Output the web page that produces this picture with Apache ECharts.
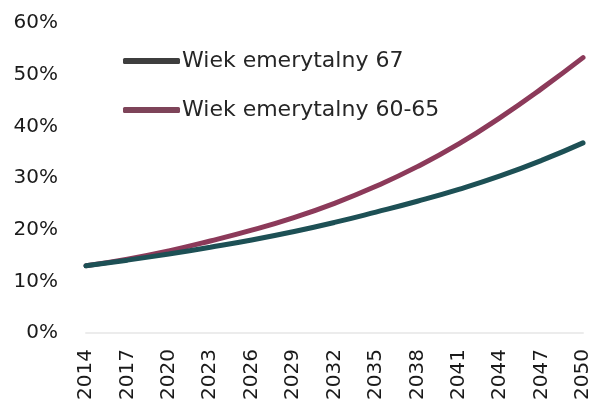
<!DOCTYPE html>
<html>
<head>
<meta charset="utf-8">
<script src="https://cdn.jsdelivr.net/npm/echarts@6/dist/echarts.min.js"></script>
<style>
  html, body { margin: 0; padding: 0; background: #ffffff; }
  #chart { width: 594px; height: 403px; }
</style>
</head>
<body>
<div id="chart"></div>
<script>
// Years shown on the horizontal axis
var years = ['2014', '2017', '2020', '2023', '2026', '2029', '2032', '2035', '2038', '2041', '2044', '2047', '2050'];

// Share (%) for each retirement-age scenario
var age67 = [13.0, 14.1, 15.3, 16.6, 18.0, 19.6, 21.4, 23.4, 25.5, 27.8, 30.4, 33.4, 36.8];
var age6065 = [13.0, 14.3, 15.9, 17.8, 19.9, 22.3, 25.1, 28.4, 32.2, 36.6, 41.7, 47.3, 53.3];

var seriesNames = ['Wiek emerytalny 67', 'Wiek emerytalny 60-65'];
var yTicks = { min: 0, max: 60, interval: 10 };

var chart = echarts.init(document.getElementById('chart'), null, { renderer: 'canvas' });

chart.setOption({
  backgroundColor: '#ffffff',
  animation: false,
  grid: { left: 86, right: 11, top: 23, bottom: 70, containLabel: false },
  legend: {
    orient: 'vertical',
    left: 118,
    top: 44,
    icon: 'roundRect',
    itemWidth: 57,
    itemHeight: 6,
    itemGap: 25,
    textStyle: {
      fontFamily: 'DejaVu Sans',
      fontSize: 22,
      color: '#262626',
      lineHeight: 24,
      padding: [0, 0, 0, -3]
    },
    data: [
      { name: seriesNames[0], itemStyle: { color: '#3e3e3e' } },
      { name: seriesNames[1], itemStyle: { color: '#7e4459' } }
    ]
  },
  xAxis: {
    type: 'category',
    data: years,
    boundaryGap: false,
    axisLine: { show: true, lineStyle: { color: '#ececec', width: 2 } },
    axisTick: { show: false },
    axisLabel: {
      rotate: 90,
      margin: 16,
      fontFamily: 'DejaVu Sans',
      fontSize: 20,
      color: '#1a1a1a'
    },
    splitLine: { show: false }
  },
  yAxis: {
    type: 'value',
    min: yTicks.min,
    max: yTicks.max,
    interval: yTicks.interval,
    axisLine: { show: false },
    axisTick: { show: false },
    splitLine: { show: false },
    axisLabel: {
      margin: 28,
      fontFamily: 'DejaVu Sans',
      fontSize: 20,
      color: '#1a1a1a',
      formatter: '{value}%'
    }
  },
  series: [
    {
      name: seriesNames[1],
      type: 'line',
      data: age6065,
      smooth: true,
      symbol: 'none',
      lineStyle: { color: '#8c3a5a', width: 5, cap: 'round' },
      itemStyle: { color: '#8c3a5a' },
      z: 2
    },
    {
      name: seriesNames[0],
      type: 'line',
      data: age67,
      smooth: true,
      symbol: 'none',
      lineStyle: { color: '#1d5055', width: 5, cap: 'round' },
      itemStyle: { color: '#1d5055' },
      z: 3
    }
  ]
});
</script>
</body>
</html>
